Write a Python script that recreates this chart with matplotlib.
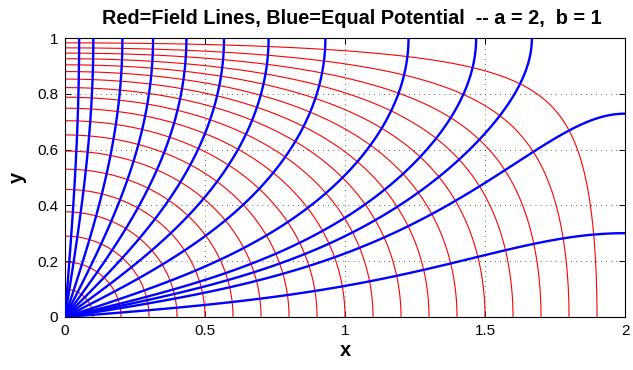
import numpy as np
import matplotlib
matplotlib.use("Agg")
import matplotlib.pyplot as plt

# ---- problem parameters (from title) ----
a = 2.0
b = 1.0

# ---- contour selections ----
# red field lines pass through these points on the x axis (y = 0)
red_x_intercepts = [0.1, 0.2, 0.3, 0.4, 0.5, 0.6, 0.7, 0.8, 0.9, 1.0,
                    1.1, 1.2, 1.3, 1.4, 1.5, 1.6, 1.7, 1.8, 1.9]
# blue equipotential levels (V = 1 on x = 0, V = 0 on y = 0)
blue_levels = [0.05, 0.10, 0.125, 0.15, 0.20, 0.30, 0.40, 0.50,
               0.60, 0.70, 0.80, 0.90, 0.95]

title = "Red=Field Lines, Blue=Equal Potential  -- a = 2,  b = 1"
xticks = [0, 0.5, 1, 1.5, 2]
xticklabels = ['0', '0.5', '1', '1.5', '2']
yticks = [0, 0.2, 0.4, 0.6, 0.8, 1]
yticklabels = ['0', '0.2', '0.4', '0.6', '0.8', '1']

# ---- field in the rectangle: V=1 on x=0, V=0 on y=0, insulating x=a, y=b ----
N = 3000
n = np.arange(N)
lam = (n + 0.5) * np.pi / b
A = 4.0 / ((2 * n + 1) * np.pi)

def gx(x, sign):
    x = np.asarray(x, float)
    return (np.exp(-lam[:, None] * x[None, :]) + sign * np.exp(-lam[:, None] * (2 * a - x[None, :]))) \
        / (1 + np.exp(-2 * lam[:, None] * a))

x = np.linspace(0, a, 801)
y = np.linspace(0, b, 401)
S = np.sin(np.outer(y, lam)) * A[None, :]
C = np.cos(np.outer(y, lam)) * A[None, :]
V = S @ gx(x, 1.0)
Psi = C @ gx(x, -1.0)
V[1:, 0] = 1.0
Psi[0, 0] = Psi[0, 1] * 2

red_levels = sorted((A[:, None] * gx(np.array(red_x_intercepts), -1.0)).sum(0))

# ---- figure ----
plt.rcParams['font.family'] = ['Liberation Sans', 'DejaVu Sans']
fig = plt.figure(figsize=(6.33, 3.70), dpi=100)
ax = fig.add_axes([65 / 633, 53 / 370, 560 / 633, 279 / 370])

X, Y = np.meshgrid(x, y)
ax.contour(X, Y, Psi, levels=red_levels, colors=[(1, 0, 0)], linewidths=0.8,
           linestyles='solid', zorder=2)
ax.contour(X, Y, V, levels=blue_levels, colors=[(0, 0, 1)], linewidths=1.7,
           linestyles='solid', zorder=3)

ax.set_xlim(0, 2)
ax.set_ylim(0, 1)
ax.set_xticks(xticks)
ax.set_xticklabels(xticklabels)
ax.set_yticks(yticks)
ax.set_yticklabels(yticklabels)
ax.tick_params(direction='in', top=True, right=True, length=4, width=0.7,
               labelsize=11, pad=5)
ax.grid(True, color='black', linestyle=(0, (0.6, 4.6)), linewidth=0.7, zorder=1)
ax.set_axisbelow(True)
for s in ax.spines.values():
    s.set_linewidth(0.8)

ax.set_title(title, fontsize=14.3, fontweight='bold', pad=10, x=0.5125)
ax.set_xlabel('x', fontsize=14.5, fontweight='bold', labelpad=2)
ax.set_ylabel('y', fontsize=14.5, fontweight='bold', labelpad=7)

fig.savefig('out.png', dpi=100)
